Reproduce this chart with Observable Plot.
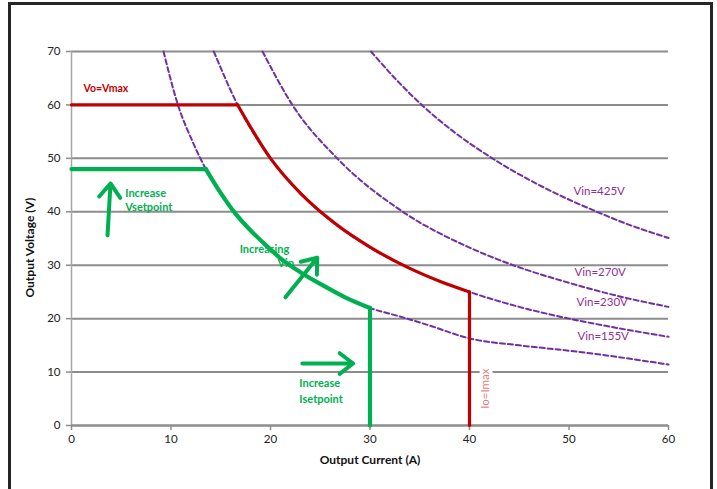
<!DOCTYPE html>
<html>
<head>
<meta charset="utf-8">
<script src="https://cdn.jsdelivr.net/npm/d3@7"></script>
<script src="https://cdn.jsdelivr.net/npm/@observablehq/plot@0.6"></script>
<style>
  html, body { margin: 0; padding: 0; background: #fff; width: 717px; height: 489px; overflow: hidden; }
  #wrap { position: relative; width: 717px; height: 489px; }
  #frame { position: absolute; left: 8px; top: 2px; width: 705px; height: 500px; border: 3px solid #262626; box-sizing: border-box; pointer-events: none; }
  svg { font-family: Lato, "Open Sans", sans-serif; }
  g[aria-label="x-axis label"] text { font-weight: bold; font-size: 12px; fill: #111; }
</style>
</head>
<body>
<div id="wrap"><div id="frame"></div></div>
<script>
// ---- data ----
const currentTicks = [0, 10, 20, 30, 40, 50, 60];
const voltageTicks = [0, 10, 20, 30, 40, 50, 60, 70];

// constant-power input curves (Output Current A, Output Voltage V)
const vin425 = [[30.1,70],[32.5,65],[35.2,60],[38.4,55],[42.3,50],[47,45],[52.8,40],[56,37.6],[60,35.1]];
const vin270 = [[19.2,70],[22.2,60],[26.7,50],[33.3,40],[40,33.3],[44.4,30],[50,26.7],[55,24.2],[60,22.2]];
const vin230 = [[14.3,70],[16.7,60],[20,50],[25,40],[30,33.3],[33.3,30],[40,25],[45,22.2],[50,20],[55,18.2],[60,16.6]];
const vin155 = [[9.25,70],[10.7,60],[12.2,53],[13.5,48],[15,43.5],[16.5,39.6],[18,36.5],[19.5,33.8],[21,31.3],[23,28.7],[25,26.5],[27.5,24],[30,22],[33,20.4],[36,18.7],[40,16.3],[45,15.0],[50,14.0],[55,12.8],[60,11.4]];

// operating limit with Vo=Vmax and Io=Imax (red)
const maxFlat = [[0,60],[16.7,60]];
const maxCurve = [[16.7,60],[20,50],[23,43.5],[26.5,37.8],[30,33.4],[34,29.4],[37,27],[40,25]];
const maxDrop = [[40,25],[40,0]];
// setpoint limit (green)
const setFlat = [[0,48],[13.5,48]];
const setCurve = [[13.5,48],[15,43.5],[16.5,39.6],[18,36.5],[19.5,33.8],[21,31.3],[23,28.7],[25,26.5],[27.5,24],[30,22]];
const setDrop = [[30,22],[30,0]];

const vinLabels = ["Vin=425V", "Vin=270V", "Vin=230V", "Vin=155V"];

const RED = "#C00000", GREEN = "#00B050", PURPLE = "#7030A0", PTEXT = "#8E2E96";
const X = d => d[0], Y = d => d[1];
const dashed = {x: X, y: Y, curve: "monotone-x", stroke: PURPLE, strokeWidth: 2, strokeDasharray: "5,3"};

const chart = Plot.plot({
  width: 717,
  height: 489,
  marginLeft: 71,
  marginRight: 49,
  marginTop: 51,
  marginBottom: 64,
  style: {fontFamily: "Lato, 'Open Sans', sans-serif", fontSize: "11px", background: "transparent"},
  x: {domain: [0, 60]},
  y: {domain: [0, 70]},
  marks: [
    Plot.ruleY(voltageTicks.filter(v => v > 0), {stroke: "#8c8c8c", strokeWidth: 2, x1: 0, x2: 60}),
    Plot.axisY({ticks: voltageTicks, tickSize: 5, tickPadding: 6, stroke: "#8c8c8c", strokeWidth: 1.5, fill: "#222", fontSize: 11.5, label: null}),
    Plot.axisX({ticks: currentTicks, tickSize: 5, tickPadding: 4, stroke: "#8c8c8c", strokeWidth: 1.5, fill: "#222", fontSize: 11.5,
      label: "Output Current (A)", labelAnchor: "center", labelArrow: "none", labelOffset: 38}),
    Plot.text(["Output Voltage (V)"], {x: -4.12, y: 33.3, rotate: -90, text: d => d,
      fontWeight: "bold", fontSize: 12, fill: "#111"}),
    Plot.ruleX([0], {stroke: "#a6a6a6", strokeWidth: 1.5}),
    Plot.ruleY([0], {stroke: "#8c8c8c", strokeWidth: 2.5}),

    Plot.line(vin425, dashed),
    Plot.line(vin270, dashed),
    Plot.line(vin230, dashed),
    Plot.line(vin155, dashed),

    Plot.text(vinLabels, {x: [50.45, 50.55, 50.75, 50.85], y: [43.8, 28.6, 23.0, 16.7], text: d => d,
      textAnchor: "start", fill: PTEXT, fontSize: 11.5}),

    Plot.text(["Vo=Vmax"], {x: 1.2, y: 63.1, text: d => d, textAnchor: "start", fill: RED, fontSize: 10.5, fontWeight: "bold"}),
    Plot.text(["Increase", "Vsetpoint"], {x: 5.4, y: [43.4, 40.8], text: d => d, textAnchor: "start", fill: GREEN, fontSize: 11, fontWeight: "bold"}),
    Plot.text(["Increasing", "Vin"], {x: [16.9, 20.7], y: [32.9, 30.3], text: d => d, textAnchor: "start", fill: GREEN, fontSize: 11, fontWeight: "bold"}),
    Plot.text(["Increase", "Isetpoint"], {x: 22.9, y: [7.86, 4.87], text: d => d, textAnchor: "start", fill: GREEN, fontSize: 11, fontWeight: "bold"}),

    Plot.line(maxFlat, {x: X, y: Y, stroke: RED, strokeWidth: 3.2}),
    Plot.line(maxCurve, {x: X, y: Y, curve: "monotone-x", stroke: RED, strokeWidth: 3.2}),
    Plot.line(maxDrop, {x: X, y: Y, stroke: RED, strokeWidth: 3.2}),
    Plot.line(setFlat, {x: X, y: Y, stroke: GREEN, strokeWidth: 4.2}),
    Plot.line(setCurve, {x: X, y: Y, curve: "monotone-x", stroke: GREEN, strokeWidth: 4.2}),
    Plot.line(setDrop, {x: X, y: Y, stroke: GREEN, strokeWidth: 4.2}),

    Plot.arrow([0], {x1: 3.62, y1: 35.6, x2: 3.92, y2: 45.3, stroke: GREEN, strokeWidth: 4, headLength: 15, headAngle: 75}),
    Plot.arrow([0], {x1: 21.5, y1: 24.0, x2: 24.7, y2: 31.4, stroke: GREEN, strokeWidth: 4, headLength: 15, headAngle: 75}),
    Plot.arrow([0], {x1: 23.2, y1: 11.6, x2: 28.3, y2: 11.6, stroke: GREEN, strokeWidth: 4, headLength: 15, headAngle: 75}),

    Plot.text(["Io=Imax"], {x: 41.6, y: 6.9, text: d => d, rotate: -90, fill: "#E57C7C", fontSize: 11.5,
      stroke: "white", strokeWidth: 7})
  ]
});
document.getElementById("wrap").prepend(chart);
</script>
</body>
</html>
